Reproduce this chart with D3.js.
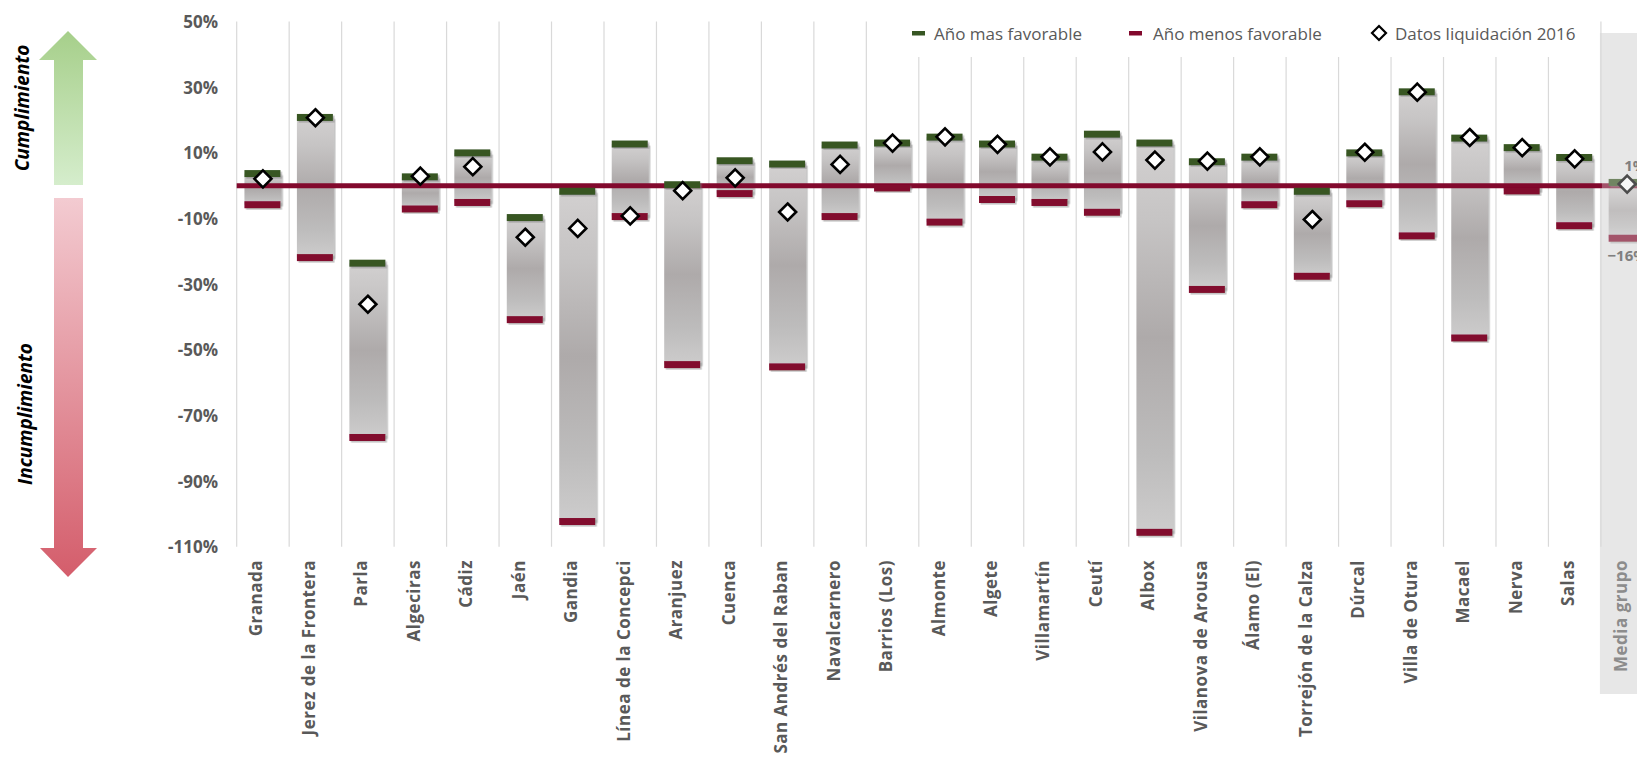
<!DOCTYPE html>
<html lang="es">
<head>
<meta charset="utf-8">
<script src="https://cdn.jsdelivr.net/npm/d3@7"></script>
<style>
  html, body { margin: 0; padding: 0; background: #fff; overflow: hidden; }
  svg { display: block; font-family: "Open Sans", "Lato", sans-serif; }
</style>
</head>
<body>
<svg id="chart" width="1637" height="758"></svg>
<script>
// Municipios comparados y media del grupo
const categories = ["Granada", "Jerez de la Frontera", "Parla", "Algeciras", "Cádiz", "Jaén", "Gandia",
  "Línea de la Concepci", "Aranjuez", "Cuenca", "San Andrés del Raban", "Navalcarnero", "Barrios (Los)",
  "Almonte", "Algete", "Villamartín", "Ceutí", "Albox", "Vilanova de Arousa", "Álamo (El)",
  "Torrejón de la Calza", "Dúrcal", "Villa de Otura", "Macael", "Nerva", "Salas", "Media grupo"];

// Año más favorable (%)
const bestYear = [3.7, 20.8, -23.6, 2.7, 10.0, -9.7, -1.7, 12.7, 0.3, 7.6, 6.6, 12.4, 13.0,
  14.8, 12.7, 8.7, 15.7, 13.0, 7.3, 8.7, -1.7, 10.0, 28.6, 14.5, 11.6, 8.6, 1];

// Año menos favorable (%)
const worstYear = [-5.8, -21.9, -76.7, -7.1, -5.1, -40.8, -102.3, -9.4, -54.5, -2.4, -55.2, -9.4, -0.7,
  -11.1, -4.2, -5.1, -8.1, -105.6, -31.6, -5.8, -27.6, -5.5, -15.3, -46.4, -1.6, -12.2, -16];

// Datos liquidación 2016 (%)
const liquidacion2016 = [2.1, 20.7, -36.1, 2.9, 5.8, -15.7, -13.0, -9.2, -1.5, 2.4, -8.0, 6.5, 13.0,
  14.9, 12.6, 8.8, 10.3, 7.8, 7.5, 8.8, -10.3, 10.2, 28.5, 14.7, 11.6, 8.2, 0.5];

const yTicks = [50, 30, 10, -10, -30, -50, -70, -90, -110];
const legendLabels = ["Año mas favorable", "Año menos favorable", "Datos liquidación 2016"];

const rows = categories.map((c, i) => ({
  name: c, best: bestYear[i], worst: worstYear[i], value: liquidacion2016[i],
  group: c === "Media grupo"
}));

const svg = d3.select("#chart");
const GREEN = "#375623", RED = "#82092d", TEXT = "#595959";

const plotLeft = 236.7, band = 52.47;
const x = d3.scaleBand().domain(categories)
  .range([plotLeft, plotLeft + band * categories.length]).padding(0);
const y = d3.scaleLinear().domain([-110, 50]).range([546.8, 21.6]);
const barW = 37, capW = 36, capH = 7;

// gradients and shadow
const defs = svg.append("defs");
const barGrad = defs.append("linearGradient").attr("id", "barGrad")
  .attr("x1", 0).attr("y1", 0).attr("x2", 0).attr("y2", 1);
[[0, "#d2d0d0"], [0.2, "#c6c4c4"], [0.5, "#aeaaaa"], [0.8, "#bdbcbc"], [1, "#cdcccc"]]
  .forEach(([o, c]) => barGrad.append("stop").attr("offset", o).attr("stop-color", c));

const upGrad = defs.append("linearGradient").attr("id", "upGrad")
  .attr("x1", 0).attr("y1", 0).attr("x2", 0).attr("y2", 1);
upGrad.append("stop").attr("offset", 0).attr("stop-color", "#a6cf8a");
upGrad.append("stop").attr("offset", 1).attr("stop-color", "#d5edcc");

const downGrad = defs.append("linearGradient").attr("id", "downGrad")
  .attr("x1", 0).attr("y1", 0).attr("x2", 0).attr("y2", 1);
downGrad.append("stop").attr("offset", 0).attr("stop-color", "#f3cbd1");
downGrad.append("stop").attr("offset", 1).attr("stop-color", "#d45d6b");

const shadow = defs.append("filter").attr("id", "shadow")
  .attr("x", "-20%").attr("y", "-20%").attr("width", "140%").attr("height", "140%");
shadow.append("feDropShadow").attr("dx", 1.6).attr("dy", 1.6).attr("stdDeviation", 0.7)
  .attr("flood-color", "#7a7a7a").attr("flood-opacity", 0.45);

// shaded column for the group average
const groupX = x("Media grupo");
svg.append("rect").attr("x", groupX - 1).attr("y", 33)
  .attr("width", band + 2).attr("height", 694 - 33).attr("fill", "#e7e7e7");

// vertical gridlines at category boundaries
svg.append("g").selectAll("line")
  .data(d3.range(categories.length + 1))
  .join("line")
  .attr("x1", i => plotLeft + i * band).attr("x2", i => plotLeft + i * band)
  .attr("y1", y(50)).attr("y2", y(-110))
  .attr("stroke", "#d9d9d9").attr("stroke-width", 1.2);

// y axis labels
svg.append("g").selectAll("text").data(yTicks).join("text")
  .attr("x", 218).attr("y", d => y(d))
  .attr("text-anchor", "end").attr("dominant-baseline", "central")
  .attr("font-size", 17).attr("font-weight", 700).attr("fill", TEXT)
  .text(d => d + "%");

// floating range bars
const bars = svg.append("g");
bars.selectAll("rect.range").data(rows).join("rect")
  .attr("class", "range")
  .attr("x", d => x(d.name) + band / 2 - barW / 2)
  .attr("y", d => y(d.best))
  .attr("width", barW)
  .attr("height", d => y(d.worst) - y(d.best))
  .attr("fill", "url(#barGrad)")
  .attr("filter", "url(#shadow)");

// zero line
svg.append("line")
  .attr("x1", plotLeft).attr("x2", 1637)
  .attr("y1", y(0)).attr("y2", y(0))
  .attr("stroke", RED).attr("stroke-width", 5);

// best / worst year caps
const caps = svg.append("g");
caps.selectAll("rect.best").data(rows).join("rect")
  .attr("class", "best")
  .attr("x", d => x(d.name) + band / 2 - capW / 2 - 0.5)
  .attr("y", d => y(d.best) - capH / 2)
  .attr("width", capW).attr("height", capH)
  .attr("fill", GREEN).attr("filter", "url(#shadow)");
caps.selectAll("rect.worst").data(rows).join("rect")
  .attr("class", "worst")
  .attr("x", d => x(d.name) + band / 2 - capW / 2 - 0.5)
  .attr("y", d => y(d.worst) - capH / 2)
  .attr("width", capW).attr("height", capH)
  .attr("fill", RED).attr("filter", "url(#shadow)");

// 2016 markers
const diamond = "M0,-8.5L8.5,0L0,8.5L-8.5,0Z";
svg.append("g").selectAll("path").data(rows).join("path")
  .attr("d", diamond)
  .attr("transform", d => `translate(${x(d.name) + band / 2},${y(d.value)})`)
  .attr("fill", "#fff").attr("stroke", "#000").attr("stroke-width", 2.6)
  .attr("stroke-linejoin", "miter");

// soften the group average column
svg.append("rect").attr("x", groupX + 1).attr("y", 33)
  .attr("width", band).attr("height", y(-110) - 33)
  .attr("fill", "#e7e7e7").attr("opacity", 0.33);

// value labels for the group average
const g = rows[rows.length - 1];
svg.append("text")
  .attr("x", x(g.name) + band / 2 - 3).attr("y", y(g.best) - 17)
  .attr("dominant-baseline", "central")
  .attr("font-size", 15).attr("font-weight", 700).attr("fill", "#7f7f7f")
  .text(d3.format(".0f")(g.best) + "%");
svg.append("text")
  .attr("x", x(g.name) + band / 2).attr("y", y(g.worst) + 17)
  .attr("text-anchor", "middle").attr("dominant-baseline", "central")
  .attr("font-size", 15).attr("font-weight", 700).attr("fill", "#7f7f7f")
  .text(d3.format(".0f")(g.worst) + "%");

// category labels
svg.append("g").selectAll("text").data(rows).join("text")
  .attr("transform", d => `translate(${x(d.name) + band / 2 - 7},560) rotate(-90)`)
  .attr("text-anchor", "end").attr("dominant-baseline", "central")
  .attr("font-size", 17).attr("font-weight", 700).attr("letter-spacing", 0.5)
  .attr("fill", d => d.group ? "#8c8c8c" : TEXT)
  .text(d => d.name);

// legend (white box hides gridlines behind it)
svg.append("rect").attr("x", 896).attr("y", 0).attr("width", 703).attr("height", 57).attr("fill", "#fff");
const leg = svg.append("g").attr("font-size", 17).attr("fill", TEXT);
leg.append("rect").attr("x", 912).attr("y", 31).attr("width", 13).attr("height", 4.5).attr("fill", GREEN);
leg.append("text").attr("x", 934).attr("y", 33).attr("dominant-baseline", "central").text(legendLabels[0]);
leg.append("rect").attr("x", 1129).attr("y", 31).attr("width", 13).attr("height", 4.5).attr("fill", RED);
leg.append("text").attr("x", 1153).attr("y", 33).attr("dominant-baseline", "central").text(legendLabels[1]);
leg.append("path").attr("d", "M0,-7L7,0L0,7L-7,0Z")
  .attr("transform", "translate(1379,33)")
  .attr("fill", "#fff").attr("stroke", "#000").attr("stroke-width", 2.2);
leg.append("text").attr("x", 1395).attr("y", 33).attr("dominant-baseline", "central").text(legendLabels[2]);

// compliance arrows
svg.append("path")
  .attr("d", "M68,31L97,60L83,60L83,185L54,185L54,60L39,60Z")
  .attr("fill", "url(#upGrad)");
svg.append("path")
  .attr("d", "M54,198L83,198L83,548L97,548L68,577L40,548L54,548Z")
  .attr("fill", "url(#downGrad)");

svg.append("text")
  .attr("transform", "translate(22,108) rotate(-90)")
  .attr("text-anchor", "middle").attr("dominant-baseline", "central")
  .attr("font-size", 19).attr("font-weight", 700).attr("font-style", "italic").attr("fill", "#000")
  .text("Cumplimiento");
svg.append("text")
  .attr("transform", "translate(25,414) rotate(-90)")
  .attr("text-anchor", "middle").attr("dominant-baseline", "central")
  .attr("font-size", 19).attr("font-weight", 700).attr("font-style", "italic").attr("fill", "#000")
  .text("Incumplimiento");
</script>
</body>
</html>
